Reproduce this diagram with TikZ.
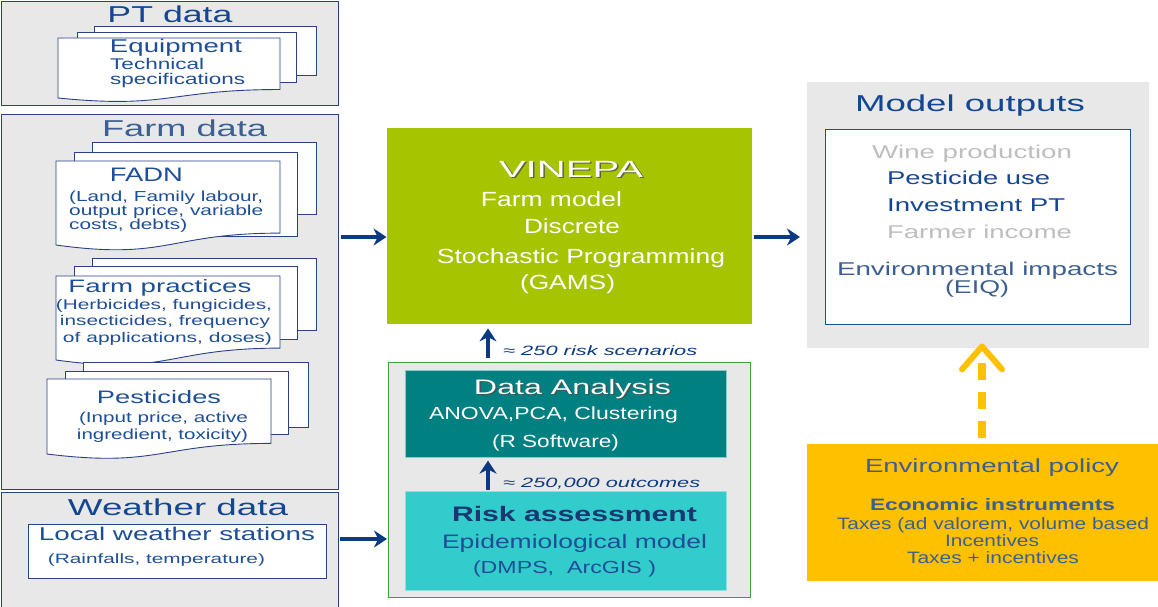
\documentclass[tikz,border=0pt]{standalone}
\usepackage{fontspec}
\setmainfont{Liberation Sans}
\usepackage{graphicx}
\usetikzlibrary{arrows.meta,calc}
\newcommand\fw[2]{\resizebox{#1pt}{\height}{#2}}
\newcommand\Tline[7]{\node[#1,font=\fontsize{#2}{#2}\selectfont] (#3) at (#4,#5) {\fw{#6}{#7}};}
\newcommand\frontpage[4]{%
  \pgfmathsetmacro\fpH{(#4-#2)/0.934}%
  \pgfmathsetmacro\fpM{(#1+#3)/2}%
  \filldraw[docpage] (#1,#2) -- (#3,#2) -- (#3,{#2+0.802*\fpH})
     .. controls (\fpM,{#2+0.802*\fpH}) and (\fpM,{#2+1.107*\fpH}) .. (#1,#4) -- cycle;}
\definecolor{pgray}{RGB}{232,232,232}
\definecolor{pborder}{RGB}{40,65,135}
\definecolor{tblue}{RGB}{20,70,145}
\definecolor{dblue}{RGB}{30,78,150}
\definecolor{ftitle}{RGB}{60,95,150}
\definecolor{navy}{RGB}{12,58,130}
\definecolor{vgreen}{RGB}{166,196,0}
\definecolor{teal1}{RGB}{0,128,128}
\definecolor{turq}{RGB}{51,204,204}
\definecolor{gold}{RGB}{255,192,0}
\definecolor{steel}{RGB}{60,95,145}
\definecolor{lgray}{RGB}{190,190,190}
\definecolor{gborder}{RGB}{60,160,60}
\definecolor{rnavy}{RGB}{25,55,115}
\begin{document}
\begin{tikzpicture}[x=1pt,y=-1pt,
  panel/.style={draw=pborder, line width=1pt, fill=pgray, inner sep=0pt, anchor=north west},
  flat/.style={inner sep=0pt, anchor=north west},
  docpage/.style={draw=pborder, fill=white, line width=0.9pt},
  txt/.style={anchor=base, inner sep=0pt},
  ltxt/.style={anchor=base west, inner sep=0pt},
  arr/.style={draw=navy, line width=3.5pt, -{Stealth[length=13pt,width=17pt]}},
  ydash/.style={draw=gold, line width=7.5pt, dash pattern=on 17pt off 12pt},
  ychev/.style={draw=gold, line width=6pt, line cap=round, line join=round}]
\useasboundingbox (0,0) rectangle (1158,607);
\fill[white] (0,0) rectangle (1158,607);

% ---------- left panels ----------
\node[panel, minimum width=337pt, minimum height=104pt] (ptp) at (1,1) {};
\node[panel, minimum width=337pt, minimum height=375pt] (farm) at (1,114) {};
\node[panel, minimum width=337pt, minimum height=125pt] (wthr) at (1,492) {};

% PT documents
\filldraw[docpage] (94,26) rectangle (316,75);
\filldraw[docpage] (77,32) rectangle (296,82);
\frontpage{58}{38}{280}{98}
% FADN documents
\filldraw[docpage] (92,142) rectangle (316,214);
\filldraw[docpage] (74,152) rectangle (297,236);
\frontpage{56}{161}{280}{245}
% Farm practices documents
\filldraw[docpage] (92,258) rectangle (316,330);
\filldraw[docpage] (74,266) rectangle (297,339);
\frontpage{56}{276}{280}{360}
% Pesticides documents
\filldraw[docpage] (83,362) rectangle (308,427);
\filldraw[docpage] (65,371) rectangle (288,434);
\frontpage{47}{379}{271}{454}

\node[flat, draw=pborder, line width=1pt, fill=white, minimum width=298pt, minimum height=54pt] (wst) at (28,524) {};

% ---------- centre boxes ----------
\node[flat, fill=vgreen, minimum width=365pt, minimum height=196pt] (vin) at (387,128) {};
\node[flat, draw=gborder, line width=1pt, fill=pgray, minimum width=362pt, minimum height=235pt] (gbox) at (388,362) {};
\node[flat, fill=teal1, draw={rgb,255:red,140;green,200;blue,200}, line width=0.6pt, minimum width=321pt, minimum height=87pt] (da) at (405,370) {};
\node[flat, fill=turq, draw={rgb,255:red,150;green,220;blue,220}, line width=0.6pt, minimum width=321pt, minimum height=99pt] (ra) at (405,491) {};

% ---------- right boxes ----------
\node[flat, fill=pgray, minimum width=342pt, minimum height=266pt] (outp) at (807,82) {};
\node[flat, fill=white, draw=dblue, line width=1pt, minimum width=305pt, minimum height=195pt] (outi) at (825,129) {};
\node[flat, fill=gold, minimum width=355pt, minimum height=137pt] (pol) at (807,444) {};

% ---------- texts: left ----------
\Tline{txt,text=tblue}{23}{tpt}{170}{23}{125}{PT data}
\Tline{txt,text=dblue}{18.5}{teq}{176}{53}{132}{Equipment}
\Tline{ltxt,text=dblue}{15.5}{tte}{110}{70}{94}{Technical}
\Tline{ltxt,text=dblue}{15.5}{tsp}{110}{85}{135}{specifications}

\Tline{txt,text=ftitle}{23}{tfarm}{184.5}{136}{165}{Farm data}
\Tline{txt,text=dblue}{19.5}{tfadn}{146.5}{181}{73}{FADN}
\Tline{ltxt,text=dblue}{14.5}{tf1}{69}{201}{194}{(Land, Family labour,}
\Tline{ltxt,text=dblue}{14.5}{tf2}{69}{215}{194}{output price, variable}
\Tline{ltxt,text=dblue}{14.5}{tf3}{69}{229}{118}{costs, debts)}

\Tline{txt,text=dblue}{18}{tfp}{160}{292}{183}{Farm practices}
\Tline{txt,text=dblue}{14}{tfp1}{164}{309}{216}{(Herbicides, fungicides,}
\Tline{txt,text=dblue}{14}{tfp2}{165}{325}{210}{insecticides, frequency}
\Tline{txt,text=dblue}{14}{tfp3}{167.5}{342}{209}{of applications, doses)}

\Tline{txt,text=dblue}{18}{tpe}{159}{403}{124}{Pesticides}
\Tline{txt,text=dblue}{14.5}{tpe1}{163.5}{422}{169}{(Input price, active}
\Tline{txt,text=dblue}{14.5}{tpe2}{162.5}{439}{171}{ingredient, toxicity)}

\Tline{txt,text=tblue}{23}{twd}{178}{515}{220}{Weather data}
\Tline{txt,text=dblue}{18.5}{tlw}{177}{540}{276}{Local weather stations}
\Tline{txt,text=dblue}{13.5}{trf}{156.5}{563}{217}{(Rainfalls, temperature)}

% ---------- texts: centre ----------
\Tline{txt,text=black!70,opacity=0.8}{23.5}{tvinS}{572.5}{178.5}{144}{VINEPA}
\Tline{txt,text=white}{23.5}{tvin}{571}{177}{144}{VINEPA}
\Tline{txt,text=white}{20.5}{tv1}{551.5}{206}{141}{Farm model}
\Tline{txt,text=white}{20.5}{tv2}{572}{233}{96}{Discrete}
\Tline{txt,text=white}{20.5}{tv3}{581}{263}{288}{Stochastic Programming}
\Tline{txt,text=white}{20.5}{tv4}{567.5}{289}{95}{(GAMS)}

\Tline{ltxt,text=navy}{13.5}{lrisk}{503}{355}{194}{\itshape ≈ 250 risk scenarios}
\Tline{ltxt,text=navy}{13.5}{lout}{503}{487}{197}{\itshape ≈ 250,000 outcomes}

\Tline{txt,text=black!70,opacity=0.8}{21}{tdaS}{574}{395.5}{197}{Data Analysis}
\Tline{txt,text=white}{21}{tda}{572.5}{394}{197}{Data Analysis}
\Tline{txt,text=white}{17.5}{tda1}{553.5}{419}{249}{ANOVA,PCA, Clustering}
\Tline{txt,text=white}{17.5}{tda2}{555.5}{447}{127}{(R Software)}

\Tline{txt,text=rnavy}{21}{tra}{574.5}{521}{245}{\bfseries Risk assessment}
\Tline{txt,text=dblue}{19.5}{tra1}{574.5}{548}{265}{Epidemiological model}
\Tline{txt,text=dblue}{17.5}{tra2}{564.5}{573}{183}{(DMPS,\ \ ArcGIS\ )}

% ---------- texts: right ----------
\Tline{txt,text=tblue}{23}{tmo}{970}{112}{230}{Model outputs}
\Tline{txt,text=lgray}{18.5}{to1}{972}{158}{200}{Wine production}
\Tline{ltxt,text=tblue}{18.5}{to2}{887}{184}{163}{Pesticide use}
\Tline{ltxt,text=tblue}{18.5}{to3}{887}{211}{178}{Investment PT}
\Tline{txt,text=lgray}{18.5}{to4}{979.5}{238}{185}{Farmer income}
\Tline{txt,text=steel}{18.5}{to5}{977.5}{275}{281}{Environmental impacts}
\Tline{txt,text=steel}{18.5}{to6}{977}{293}{64}{(EIQ)}

\Tline{txt,text=steel}{19}{tep}{992}{472}{254}{Environmental policy}
\Tline{txt,text=steel}{16.5}{tep1}{992.5}{510}{245}{\bfseries Economic instruments}
\Tline{txt,text=steel}{16.5}{tep2}{993}{529}{312}{Taxes (ad valorem, volume based}
\Tline{txt,text=steel}{16.5}{tep3}{992}{546}{94}{Incentives}
\Tline{txt,text=steel}{16.5}{tep4}{993}{563}{172}{Taxes + incentives}

% ---------- connectors ----------
\coordinate (yA) at (0,237);
\coordinate (yW) at (0,539);
\coordinate (xU) at (488,0);
\coordinate (xY) at (982,0);
\draw[arr, shorten <=1.5pt, shorten >=0.5pt] (farm.east |- yA) -- (vin.west |- yA);
\draw[arr, shorten <=2pt, shorten >=7pt] (vin.east |- yA) -- (outp.west |- yA);
\draw[arr, shorten <=1pt, shorten >=1pt] (wthr.east |- yW) -- (gbox.west |- yW);
\draw[arr, shorten <=4pt, shorten >=4pt] (gbox.north -| xU) -- (vin.south -| xU);
\draw[arr, shorten <=1pt, shorten >=3pt] (ra.north -| xU) -- (da.south -| xU);
\draw[ydash] ($(pol.north -| xY)+(0,-6)$) -- ($(outp.south -| xY)+(0,15)$);
\draw[ychev] ($(outp.south -| xY)+(-20,21)$) -- ($(outp.south -| xY)+(0,-2)$) -- ($(outp.south -| xY)+(20,21)$);
\end{tikzpicture}
\end{document}
